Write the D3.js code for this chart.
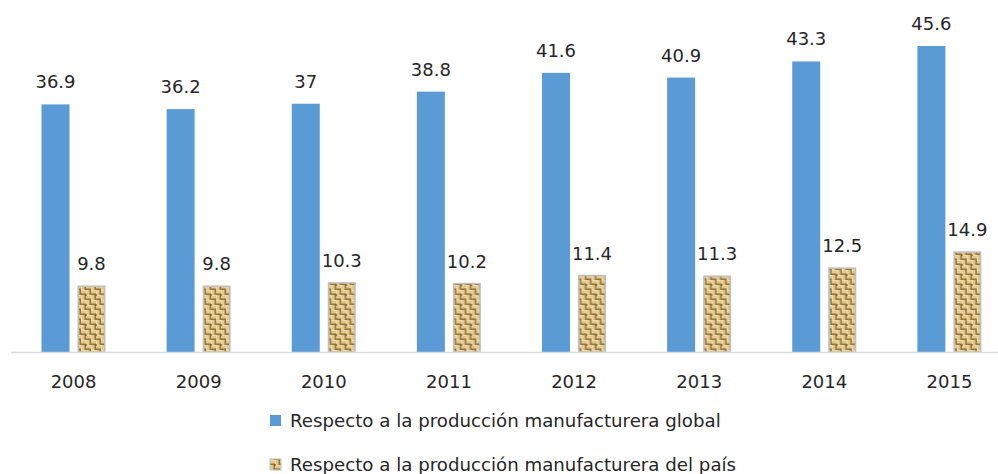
<!DOCTYPE html>
<html>
<head>
<meta charset="utf-8">
<script src="https://cdn.jsdelivr.net/npm/d3@7"></script>
<style>
  html, body { margin: 0; padding: 0; background: #ffffff; }
  svg { display: block; }
  text { font-family: "DejaVu Sans", sans-serif; fill: #262626; }
</style>
</head>
<body>
<svg id="chart" width="998" height="474"></svg>
<script>
// Years on the category axis
const years = ["2008", "2009", "2010", "2011", "2012", "2013", "2014", "2015"];
// Share relative to global manufacturing output (%)
const globalShare = [36.9, 36.2, 37, 38.8, 41.6, 40.9, 43.3, 45.6];
// Share relative to the country's manufacturing output (%)
const countryShare = [9.8, 9.8, 10.3, 10.2, 11.4, 11.3, 12.5, 14.9];
// Legend entries
const seriesNames = [
  "Respecto a la producción manufacturera global",
  "Respecto a la producción manufacturera del país"
];
const seriesKeys = ["global", "pais"];

const rows = years.map((y, i) => ({ year: y, global: globalShare[i], pais: countryShare[i] }));

const svg = d3.select("#chart");
const W = 998, H = 474;
const baseY = 352;

// Woven (basket-weave) texture for the second series
const defs = svg.append("defs");
const P = 10, h = P / 2;
const pat = defs.append("pattern")
  .attr("id", "weave")
  .attr("patternUnits", "userSpaceOnUse")
  .attr("width", P).attr("height", P);
pat.append("rect").attr("width", P).attr("height", P).attr("fill", "#cfb072");
// horizontal strands (top-left and bottom-right quadrants)
[[0, 0], [h, h]].forEach(([ox, oy]) => {
  pat.append("rect").attr("x", ox).attr("y", oy).attr("width", h).attr("height", 1.5).attr("fill", "#efdcaa");
  pat.append("rect").attr("x", ox).attr("y", oy + 2).attr("width", h).attr("height", 1.2).attr("fill", "#e2c98e");
  pat.append("rect").attr("x", ox).attr("y", oy + 3.6).attr("width", h).attr("height", 1.4).attr("fill", "#96753b");
});
// vertical strands (top-right and bottom-left quadrants)
[[h, 0], [0, h]].forEach(([ox, oy]) => {
  pat.append("rect").attr("x", ox).attr("y", oy).attr("width", 1.5).attr("height", h).attr("fill", "#efdcaa");
  pat.append("rect").attr("x", ox + 2).attr("y", oy).attr("width", 1.2).attr("height", h).attr("fill", "#e2c98e");
  pat.append("rect").attr("x", ox + 3.6).attr("y", oy).attr("width", 1.4).attr("height", h).attr("fill", "#96753b");
});
pat.append("rect").attr("x", h - 1).attr("y", h - 1).attr("width", 2).attr("height", 2).attr("fill", "#6f5226").attr("opacity", 0.6);

const x0 = d3.scaleBand().domain(years).range([11, 1012]).paddingInner(0).paddingOuter(0);
const x1 = d3.scaleBand().domain(seriesKeys).range([30.5, 94.5]).paddingInner(8 / 36).paddingOuter(0);
const y = d3.scaleLinear().domain([0, 50]).range([baseY, baseY - 50 * 6.71]);

const fills = { global: "#5b9bd5", pais: "url(#weave)" };

const groups = svg.append("g").selectAll("g")
  .data(rows).join("g")
  .attr("transform", d => `translate(${x0(d.year)},0)`);

groups.selectAll("rect")
  .data(d => seriesKeys.map(k => ({ key: k, value: d[k] })))
  .join("rect")
  .attr("x", d => x1(d.key) + (d.key === "pais" ? 0.75 : 0))
  .attr("width", d => x1.bandwidth() - (d.key === "pais" ? 1.5 : 0))
  .attr("y", d => y(d.value))
  .attr("height", d => baseY - y(d.value))
  .attr("fill", d => fills[d.key])
  .attr("stroke", d => d.key === "pais" ? "#bfbfbf" : "none")
  .attr("stroke-width", 1.5);

// value labels
groups.selectAll("text.val")
  .data(d => seriesKeys.map(k => ({ key: k, value: d[k] })))
  .join("text")
  .attr("class", "val")
  .attr("x", d => x1(d.key) + x1.bandwidth() / 2)
  .attr("y", d => y(d.value) - 16)
  .attr("text-anchor", "middle")
  .attr("font-size", 18)
  .text(d => d.value);

// category axis
const xAxis = d3.axisBottom(x0).tickSize(0).tickPadding(0);
const axisG = svg.append("g").attr("transform", `translate(0,${baseY})`).call(xAxis);
axisG.select(".domain").attr("d", `M11,0.5H${W}`).attr("stroke", "#d9d9d9").attr("stroke-width", 1.3);
axisG.selectAll(".tick text")
  .attr("y", 36).attr("dy", 0)
  .attr("font-size", 18)
  .attr("font-family", "DejaVu Sans, sans-serif")
  .attr("fill", "#262626");

// legend
const legend = svg.append("g").attr("transform", "translate(270,0)");
const legendY = [415, 459];
seriesKeys.forEach((k, i) => {
  legend.append("rect")
    .attr("x", 0).attr("y", legendY[i])
    .attr("width", 11).attr("height", 11)
    .attr("fill", fills[k])
    .attr("stroke", k === "pais" ? "#bfbfbf" : "none")
    .attr("stroke-width", 1);
  legend.append("text")
    .attr("x", 20).attr("y", legendY[i] + 11.5)
    .attr("font-size", 18.2)
    .text(seriesNames[i]);
});
</script>
</body>
</html>
